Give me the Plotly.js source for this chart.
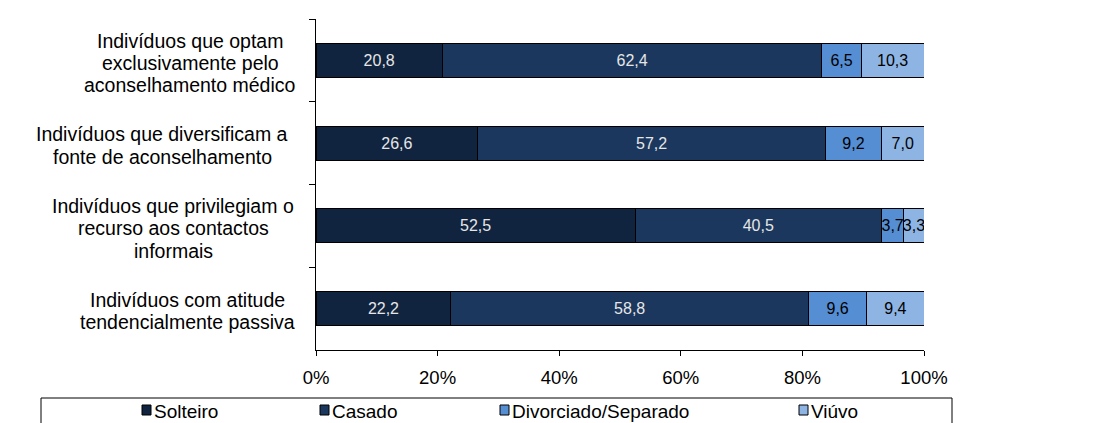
<!DOCTYPE html>
<html>
<head>
<meta charset="utf-8">
<script src="https://cdn.plot.ly/plotly-3.0.1.min.js"></script>
<style>html,body{margin:0;padding:0;background:#fff;}#chart{width:1113px;height:423px;}</style>
</head>
<body>
<div id="chart"></div>
<script>
// ---- data ----
const categories = [
  "Indivíduos que optam exclusivamente pelo aconselhamento médico",
  "Indivíduos que diversificam a fonte de aconselhamento",
  "Indivíduos que privilegiam o recurso aos contactos informais",
  "Indivíduos com atitude tendencialmente passiva"
];
// line breaks of each category label, as shown in the chart
const categoryLines = [
  ["Indivíduos que optam", "exclusivamente pelo", "aconselhamento médico"],
  ["Indivíduos que diversificam a", "fonte de aconselhamento"],
  ["Indivíduos que privilegiam o", "recurso aos contactos", "informais"],
  ["Indivíduos com atitude", "tendencialmente passiva"]
];
const seriesNames = ["Solteiro", "Casado", "Divorciado/Separado", "Viúvo"];
const solteiro   = [20.8, 26.6, 52.5, 22.2];
const casado     = [62.4, 57.2, 40.5, 58.8];
const divorciado = [6.5, 9.2, 3.7, 9.6];
const viuvo      = [10.3, 7.0, 3.3, 9.4];
const xTickVals  = [0, 20, 40, 60, 80, 100];
const xTickText  = ["0%", "20%", "40%", "60%", "80%", "100%"];

// ---- styles / layout constants ----
const colors = ["#10233F", "#1B375D", "#568ED4", "#8EB4E3"];
const textColors = ["#E6E6E6", "#E6E6E6", "#000000", "#000000"];
const FONT = '"Liberation Sans", Arial, sans-serif';

const W = 1113, H = 423;
const L = 316, R = 924, T = 19, B = 350;
const px2x = p => (p - L) / (R - L);
const py2y = p => (B - p) / (B - T);

const labelCenters = [190, 162, 173, 187];   // px, horizontal centre of each label block
const LINE_H = 22.3;
const LABEL_SIZE = 19.5;

const allSeries = [solteiro, casado, divorciado, viuvo];
const fmt = v => v.toFixed(1).replace('.', ',');

const traces = allSeries.map((vals, i) => ({
  type: 'bar',
  orientation: 'h',
  name: seriesNames[i],
  x: vals,
  y: categories,
  text: vals.map(fmt),
  textposition: 'inside',
  insidetextanchor: 'middle',
  textangle: 0,
  constraintext: 'none',
  insidetextfont: {family: FONT, size: 16, color: textColors[i]},
  marker: {color: colors[i], line: {color: '#000000', width: 1}},
  hoverinfo: 'skip',
  showlegend: false
}));

// category labels, one annotation per line, centred lines
const annotations = [];
categories.forEach((c, ci) => {
  const lines = categoryLines[ci];
  const n = lines.length;
  lines.forEach((ln, li) => {
    annotations.push({
      text: ln,
      xref: 'paper', yref: 'y',
      x: px2x(labelCenters[ci]), y: c,
      xanchor: 'center', yanchor: 'middle',
      yshift: -((li - (n - 1) / 2) * LINE_H + 2.5),
      showarrow: false,
      font: {family: FONT, size: LABEL_SIZE, color: '#000000'}
    });
  });
});

// manual legend
const shapes = [{
  type: 'rect', xref: 'paper', yref: 'paper',
  x0: px2x(41), x1: px2x(952), y0: py2y(398), y1: py2y(426),
  line: {color: '#000000', width: 1}, fillcolor: 'rgba(0,0,0,0)'
}];
const legendX = [142, 320, 500, 799];
seriesNames.forEach((n, i) => {
  shapes.push({
    type: 'rect', xref: 'paper', yref: 'paper',
    x0: px2x(legendX[i]), x1: px2x(legendX[i] + 9),
    y0: py2y(405), y1: py2y(415),
    line: {color: '#000000', width: 1}, fillcolor: colors[i]
  });
  annotations.push({
    text: n, xref: 'paper', yref: 'paper',
    x: px2x(legendX[i] + 10), y: py2y(411.5),
    xanchor: 'left', yanchor: 'middle',
    showarrow: false,
    font: {family: FONT, size: 19, color: '#000000'}
  });
});

const layout = {
  width: W, height: H,
  margin: {l: L, r: W - R, t: T, b: H - B, pad: 0},
  paper_bgcolor: '#ffffff', plot_bgcolor: '#ffffff',
  barmode: 'stack',
  bargap: 0.59,
  showlegend: false,
  font: {family: FONT, color: '#000000'},
  xaxis: {
    range: [0, 100],
    tickvals: xTickVals, ticktext: xTickText,
    showgrid: false, zeroline: false,
    showline: true, linecolor: '#000000', linewidth: 1,
    ticks: 'outside', ticklen: 5, tickcolor: '#000000',
    tickfont: {family: FONT, size: 18.5, color: '#000000'},
    ticklabelstandoff: 6
  },
  yaxis: {
    type: 'category',
    autorange: 'reversed',
    showgrid: false, zeroline: false,
    showline: true, linecolor: '#000000', linewidth: 1,
    ticks: 'outside', tickson: 'boundaries', ticklen: 6, tickcolor: '#000000',
    showticklabels: false
  },
  annotations: annotations,
  shapes: shapes
};

Plotly.newPlot('chart', traces, layout, {staticPlot: true, displayModeBar: false});
</script>
</body>
</html>
